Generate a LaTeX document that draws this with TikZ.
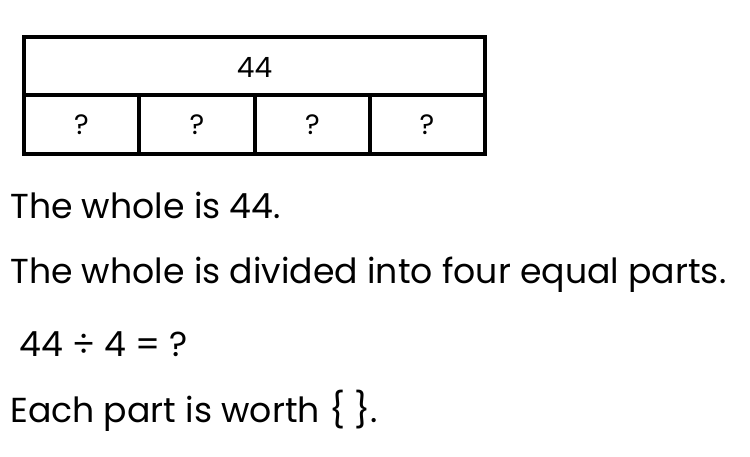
\documentclass[tikz,border=0pt]{standalone}
\usepackage{fontspec}
\setmainfont{Poppins}
\usepackage{tikz}

\begin{document}
\begin{tikzpicture}[x=0.75pt,y=0.75pt,yscale=-1,xscale=1]
\tikzset{barline/.style={line width=3pt},
  celltext/.style={inner sep=0.75pt,font=\fontsize{21}{24}\selectfont},
  linetext/.style={anchor=base west,inner sep=0pt,font=\fontsize{26}{30}\selectfont}}
\useasboundingbox (0,0) rectangle (750,457);

%Shape: Rectangle whole
\draw [barline] (24,37) -- (484.5,37) -- (484.5,153.5) -- (24,153.5) -- cycle ;
%Straight Lines middle
\draw [barline] (24,95) -- (484.5,95) ;
%Straight Lines dividers
\draw [barline] (139,95) -- (139,153.5) ;
\draw [barline] (254.5,95) -- (254.5,153.5) ;
\draw [barline] (370,95) -- (370,153.5) ;

% Text Node
\draw (254.5,67) node [celltext] (whole) {44};
% Text Node
\draw (81.5,125) node [celltext] (partA) {?};
% Text Node
\draw (197,125) node [celltext] (partB) {?};
% Text Node
\draw (312.5,125) node [celltext] (partC) {?};
% Text Node
\draw (427,125) node [celltext] (partD) {?};

% Text Node
\draw (10,218) node [linetext] (lineA) {The whole is 44.};
% Text Node
\draw (10,283) node [linetext] (lineB) {The whole is divided into four equal parts.};
% Text Node
\draw (19,356) node [linetext] (lineC) {44 ÷ 4 = ?};
% Text Node
\draw (10,422) node [linetext] (lineD) {Each part is worth \{ \}.};

\end{tikzpicture}
\end{document}
